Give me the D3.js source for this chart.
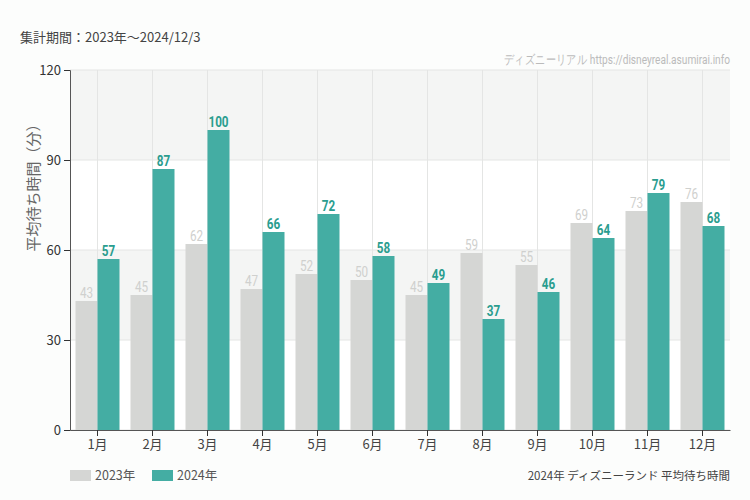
<!DOCTYPE html>
<html><head><meta charset="utf-8">
<script src="https://cdn.jsdelivr.net/npm/d3@7"></script>
<style>
body{margin:0;background:#fcfdfc;}
svg{display:block;}
text{font-family:"Noto Sans CJK JP","Noto Sans",sans-serif;}
.cond{font-family:"Roboto","Liberation Sans",sans-serif;}
</style></head><body>
<svg id="c" width="750" height="500"></svg>
<script>
const months = ["1月","2月","3月","4月","5月","6月","7月","8月","9月","10月","11月","12月"];
const v2023 = [43,45,62,47,52,50,45,59,55,69,73,76];
const v2024 = [57,87,100,66,72,58,49,37,46,64,79,68];
const yTicks = [0,30,60,90,120];
const seriesNames = ["2023年","2024年"];
const colors = ["#d5d6d4","#44ada3"];
const labelColors = ["#cfd0ce","#2a9d8f"];

const svg = d3.select("#c");
const m = {l:70, r:20, t:70, b:70};
const W = 750, H = 500;
const x0 = d3.scaleBand().domain(months).range([m.l, W-m.r]);
const y = d3.scaleLinear().domain([0,120]).range([H-m.b, m.t]);

// alternating bands
const bands = [[90,120,"#f4f5f4"],[60,90,"#ffffff"],[30,60,"#f4f5f4"],[0,30,"#ffffff"]];
svg.selectAll("rect.bg").data(bands).join("rect")
  .attr("x", m.l).attr("width", W-m.r-m.l)
  .attr("y", d=>y(d[1])).attr("height", d=>y(d[0])-y(d[1]))
  .attr("fill", d=>d[2]);

// grid lines
svg.selectAll("line.hg").data(yTicks).join("line")
  .attr("x1", m.l).attr("x2", W-m.r).attr("y1", d=>y(d)).attr("y2", d=>y(d))
  .attr("stroke","#e4e5e4");
svg.selectAll("line.vg").data(months).join("line")
  .attr("x1", d=>x0(d)+x0.bandwidth()/2).attr("x2", d=>x0(d)+x0.bandwidth()/2)
  .attr("y1", m.t).attr("y2", H-m.b).attr("stroke","#e4e5e4");

const bw = x0.bandwidth()*0.4;
const series = [v2023, v2024];
series.forEach((vals, si) => {
  const g = svg.append("g");
  g.selectAll("rect").data(vals).join("rect")
    .attr("x", (d,i)=>x0(months[i])+x0.bandwidth()/2 - (si===0?bw:0))
    .attr("width", bw)
    .attr("y", d=>y(d)).attr("height", d=>y(0)-y(d))
    .attr("fill", colors[si]);
  g.selectAll("text").data(vals).join("text")
    .attr("class","cond")
    .attr("transform", (d,i)=>`translate(${x0(months[i])+x0.bandwidth()/2 + (si===0?-bw/2:bw/2)},${y(d)-3}) scale(0.78,1)`)
    .attr("text-anchor","middle")
    .attr("font-size", 15).attr("font-weight", si===1?"bold":"normal")
    .attr("fill", labelColors[si])
    .text(d=>d);
});

// axes
const ya = svg.append("g").attr("transform",`translate(${m.l},0)`)
  .call(d3.axisLeft(y).tickValues(yTicks).tickSize(6).tickPadding(3));
ya.select(".domain").attr("stroke","#555");
ya.selectAll(".tick line").attr("stroke","#333");
ya.selectAll(".tick text").attr("font-size",13).attr("fill","#333")
  .attr("font-family","'Noto Sans CJK JP','Noto Sans',sans-serif");

const xa = svg.append("g").attr("transform",`translate(0,${H-m.b})`)
  .call(d3.axisBottom(x0).tickSize(6).tickPadding(4).tickSizeOuter(0));
xa.select(".domain").attr("stroke","#555");
xa.selectAll(".tick line").attr("stroke","#333");
xa.selectAll(".tick text").attr("font-size",13).attr("fill","#444")
  .attr("font-family","'Noto Sans CJK JP','Noto Sans',sans-serif");

// y title
svg.append("text").attr("transform",`translate(39,184) rotate(-90)`)
  .attr("text-anchor","middle").attr("font-size",15).attr("fill","#666")
  .text("平均待ち時間（分）");

// header texts
svg.append("text").attr("x",20).attr("y",42).attr("font-size",13).attr("fill","#444")
  .text("集計期間：2023年～2024/12/3");
const wm = svg.append("text").attr("class","cond").attr("text-anchor","end")
  .attr("font-size",13).attr("fill","#bbb")
  .text("ディズニーリアル https://disneyreal.asumirai.info");
const wmLen = wm.node().getComputedTextLength();
wm.attr("transform", `translate(730,64) scale(${224/wmLen},1)`);

// legend
const lg = svg.append("g");
const lx = [70,152];
seriesNames.forEach((n,i)=>{
  lg.append("rect").attr("x",lx[i]).attr("y",470).attr("width",21).attr("height",11).attr("fill",colors[i]);
  lg.append("text").attr("x",lx[i]+25).attr("y",480).attr("font-size",12.5).attr("fill","#555").text(n);
});
svg.append("text").attr("x",730).attr("y",480).attr("text-anchor","end").attr("font-size",11.5).attr("fill","#444")
  .text("2024年 ディズニーランド 平均待ち時間");
</script></body></html>
